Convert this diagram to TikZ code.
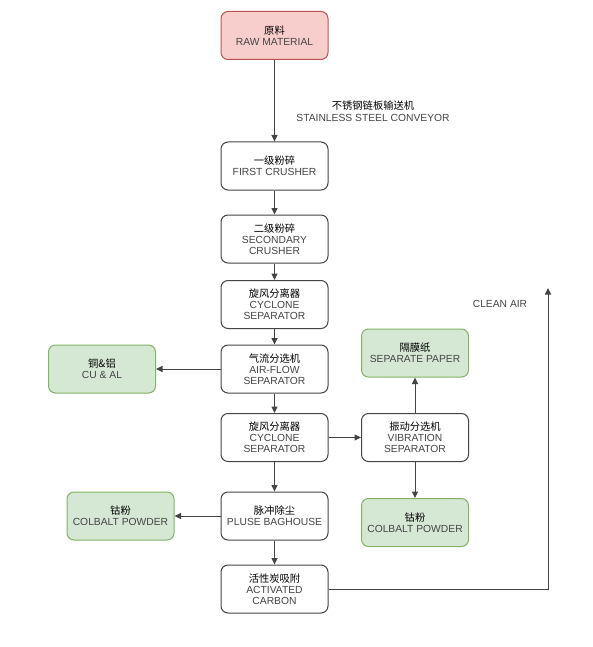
\documentclass[tikz,border=0pt]{standalone}
\usepackage{fontspec}
\setmainfont{Liberation Sans}
\newfontfamily\cjk{Noto Sans CJK SC}
\usetikzlibrary{arrows.meta}
\definecolor{pinkfill}{HTML}{F8CECC}
\definecolor{pinkline}{HTML}{B85450}
\definecolor{greenfill}{HTML}{D5E8D4}
\definecolor{greenline}{HTML}{82B366}
\definecolor{boxline}{HTML}{444444}
\definecolor{txt}{HTML}{444444}
\begin{document}
\begin{tikzpicture}[x=1pt,y=-1pt]
            \tikzstyle{etape}=[rectangle,rounded corners=7pt,draw=boxline,line width=1pt,fill=white,
              minimum width=107pt,minimum height=48pt,inner sep=1pt,align=center,text=txt,
              font=\fontsize{10.3}{11}\selectfont]
            \tikzstyle{rouge}=[etape,draw=pinkline,fill=pinkfill]
            \tikzstyle{vert}=[etape,draw=greenline,fill=greenfill]
            \tikzstyle{fleche}=[-{Triangle[length=6.5pt,width=6pt]},line width=1pt,draw=boxline,fill=boxline]
            \tikzstyle{texte}=[align=center,text=txt,font=\fontsize{10.3}{11.5}\selectfont]
            \useasboundingbox (0,0) rectangle (593,647);
            \node[rouge] (raw) at (274.5,35.5) {{\cjk\color{black}原料}\\RAW MATERIAL};
            \node[etape] (first) at (274.5,166) {{\cjk\color{black}一级粉碎}\\FIRST CRUSHER};
            \node[etape] (second) at (274.5,239) {{\cjk\color{black}二级粉碎}\\SECONDARY\\CRUSHER};
            \node[etape] (cyc1) at (274.5,304.5) {{\cjk\color{black}旋风分离器}\\CYCLONE\\SEPARATOR};
            \node[etape] (air) at (274.5,369) {{\cjk\color{black}气流分选机}\\AIR-FLOW\\SEPARATOR};
            \node[etape] (cyc2) at (274.5,437.5) {{\cjk\color{black}旋风分离器}\\CYCLONE\\SEPARATOR};
            \node[etape] (pulse) at (274.5,516) {{\cjk\color{black}脉冲除尘}\\PLUSE BAGHOUSE};
            \node[etape] (carbon) at (274.5,589) {{\cjk\color{black}活性炭吸附}\\ACTIVATED\\CARBON};
            \node[vert] (cual) at (102,369) {{\cjk\color{black}铜\&铝}\\CU \& AL};
            \node[vert] (cobL) at (120.5,516) {{\cjk\color{black}钴粉}\\COLBALT POWDER};
            \node[vert] (paper) at (415,353) {{\cjk\color{black}隔膜纸}\\SEPARATE PAPER};
            \node[etape] (vib) at (415,437.5) {{\cjk\color{black}振动分选机}\\VIBRATION\\SEPARATOR};
            \node[vert] (cobR) at (415,522.5) {{\cjk\color{black}钴粉}\\COLBALT POWDER};
            \node[texte] (conv) at (373,111) {{\cjk\color{black}不锈钢链板输送机}\\STAINLESS STEEL CONVEYOR};
            \node[texte] (clean) at (500,304) {CLEAN AIR};
            \coordinate (coin) at (548,589);
            \coordinate (sortie) at (548,288);
            \draw[fleche] (raw) -- (first);
            \draw[fleche] (first) -- (second);
            \draw[fleche] (second) -- (cyc1);
            \draw[fleche] (cyc1) -- (air);
            \draw[fleche] (air) -- (cyc2);
            \draw[fleche] (cyc2) -- (pulse);
            \draw[fleche] (pulse) -- (carbon);
            \draw[fleche] (air) -- (cual);
            \draw[fleche] (pulse) -- (cobL);
            \draw[fleche] (cyc2) -- (vib);
            \draw[fleche] (vib) -- (paper);
            \draw[fleche] (vib) -- (cobR);
            \draw[fleche,fill=none] (carbon) -- (coin) -- (sortie);
        \end{tikzpicture}
\end{document}
